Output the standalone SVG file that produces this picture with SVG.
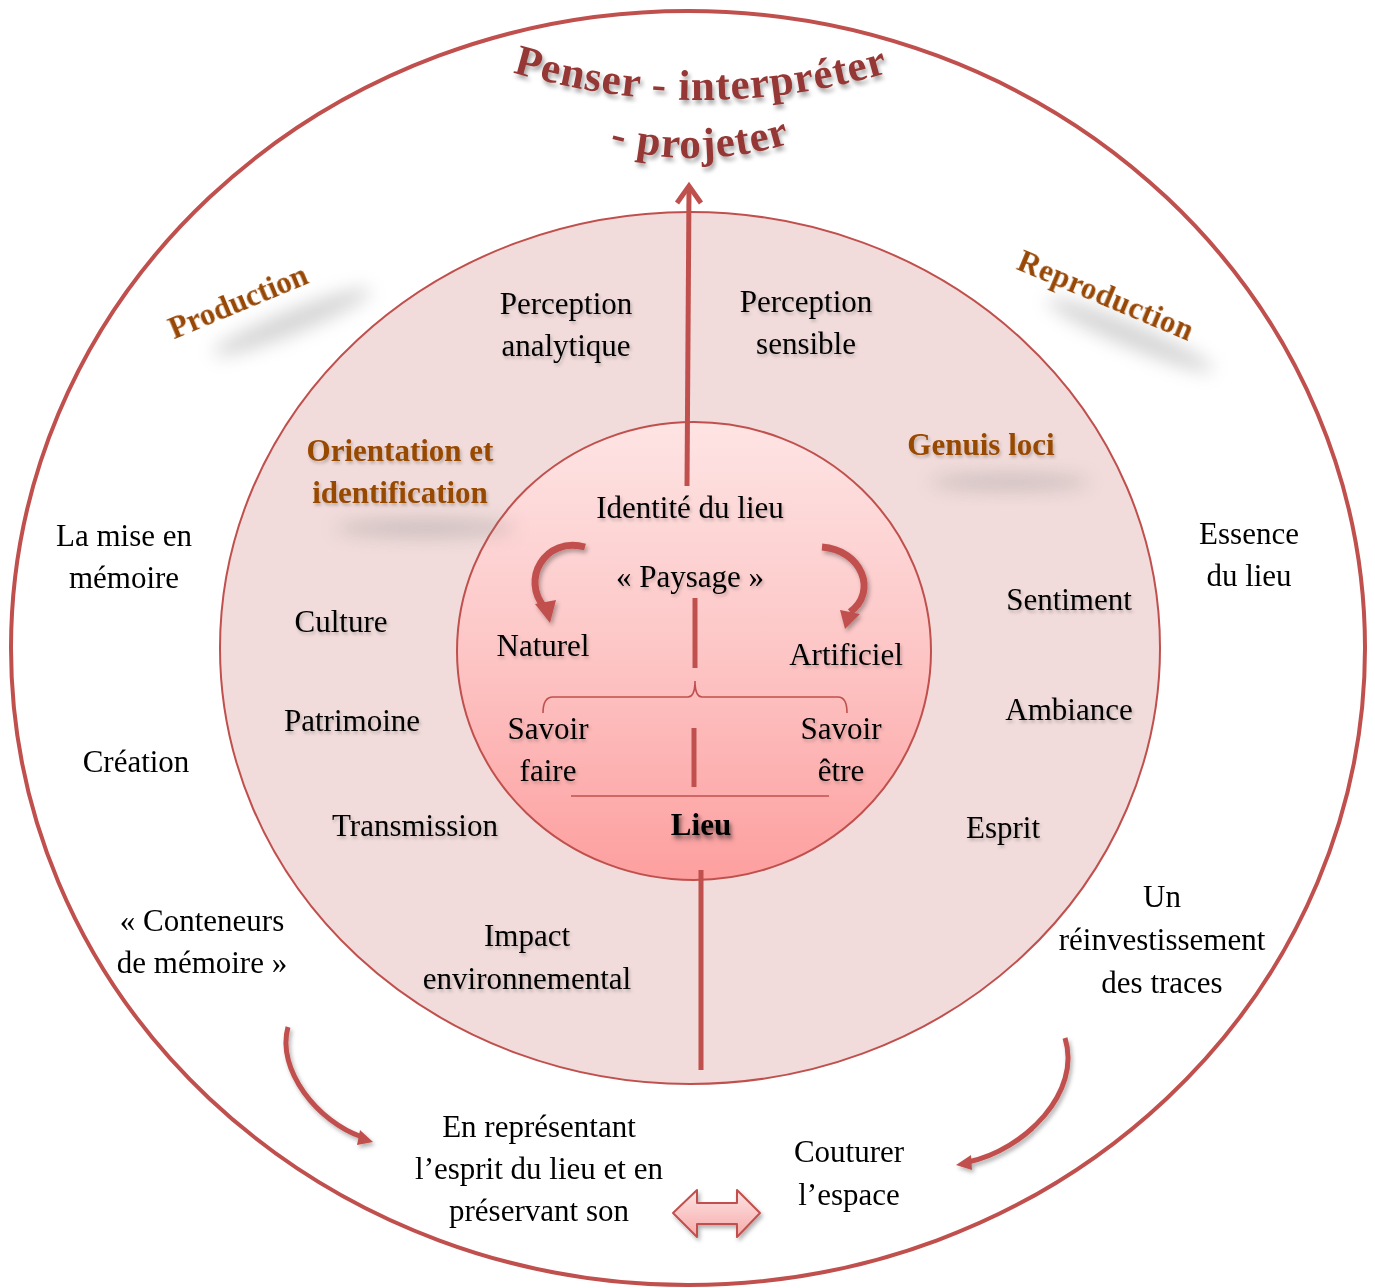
<svg xmlns="http://www.w3.org/2000/svg" width="1375" height="1288" viewBox="0 0 1375 1288">
<defs>
<style>
.t{font-family:"Liberation Serif","Times New Roman",serif;font-size:31px;fill:#000;text-anchor:middle}
.b{font-family:"Liberation Serif","Times New Roman",serif;font-size:31px;font-weight:bold;fill:#984806;text-anchor:middle}
.ttl{font-family:"Liberation Serif","Times New Roman",serif;font-size:43px;font-weight:bold;fill:#953735;letter-spacing:1px}
.ln{stroke:#c0504d;fill:none;stroke-linecap:butt}
</style>
<filter id="ts" x="-20%" y="-30%" width="140%" height="170%"><feDropShadow dx="1.5" dy="2.5" stdDeviation="1.6" flood-color="#000" flood-opacity="0.22"/></filter>
<filter id="tt" x="-20%" y="-30%" width="140%" height="170%"><feDropShadow dx="2" dy="4" stdDeviation="2.2" flood-color="#000" flood-opacity="0.35"/></filter>
<filter id="bl" x="-50%" y="-100%" width="200%" height="300%"><feGaussianBlur stdDeviation="9"/></filter>
<filter id="as" x="-30%" y="-30%" width="160%" height="160%"><feDropShadow dx="2" dy="3" stdDeviation="2" flood-color="#000" flood-opacity="0.3"/></filter>
<linearGradient id="ig" x1="0" y1="0" x2="0" y2="1">
<stop offset="0" stop-color="#fee4e4"/>
<stop offset="0.5" stop-color="#fdc6c6"/>
<stop offset="1" stop-color="#fd9f9f"/>
</linearGradient>
<linearGradient id="dg" x1="0" y1="0" x2="0" y2="1">
<stop offset="0" stop-color="#fde4e4"/>
<stop offset="1" stop-color="#f7aaaa"/>
</linearGradient>
<path id="p1" d="M 505 70 Q 700 130 897 70"/>
<path id="p2" d="M 600 144 Q 700 174 800 140"/>
</defs>

<g id="circles">
<ellipse cx="688" cy="648" rx="677" ry="637" fill="#fff" stroke="#c0504d" stroke-width="4"/>
<ellipse cx="690" cy="648" rx="470" ry="436" fill="#f1dcdb" stroke="#c0504d" stroke-width="2"/>
<ellipse cx="694" cy="651" rx="237" ry="229" fill="url(#ig)" stroke="#c0504d" stroke-width="2"/>
</g>

<g id="shadows" fill="#888" opacity="0.35">
<ellipse cx="292" cy="322" rx="85" ry="12" transform="rotate(-22 292 322)" filter="url(#bl)"/>
<ellipse cx="1130" cy="335" rx="90" ry="12" transform="rotate(23 1130 335)" filter="url(#bl)"/>
<ellipse cx="425" cy="528" rx="90" ry="9" filter="url(#bl)"/>
<ellipse cx="1010" cy="482" rx="80" ry="8" filter="url(#bl)"/>
</g>

<g id="connectors">
<line class="ln" x1="687" y1="486" x2="689" y2="190" stroke-width="5"/>
<polyline class="ln" points="677,203 689,186 701,203" stroke-width="5" stroke-linejoin="miter"/>
<line class="ln" x1="701" y1="870" x2="701" y2="1070" stroke-width="5"/>
<line class="ln" x1="695" y1="598" x2="695" y2="668" stroke-width="5"/>
<line class="ln" x1="694" y1="728" x2="694" y2="787" stroke-width="5"/>
<path class="ln" stroke-width="1.6" d="M 543 713 Q 543 697 553 697 L 688 697 Q 695 697 695 681 Q 695 697 702 697 L 838 697 Q 847 697 847 713"/>
<line class="ln" x1="571" y1="796" x2="829" y2="796" stroke-width="1.6"/>
<g filter="url(#as)">
<path class="ln" stroke-width="7" d="M 585 547 C 545 536 520 580 545 608"/>
<polygon fill="#c0504d" points="535,604 556,600 550,623"/>
<path class="ln" stroke-width="7" d="M 822 547 C 862 550 878 592 850 612"/>
<polygon fill="#c0504d" points="840,610 860,614 845,629"/>
<path class="ln" stroke-width="5" d="M 288 1027 C 276 1070 318 1122 362 1137"/>
<polygon fill="#c0504d" points="360,1130 373,1142 357,1145"/>
<path class="ln" stroke-width="5" d="M 1065 1038 C 1082 1092 1025 1150 968 1162"/>
<polygon fill="#c0504d" points="971,1155 956,1165 972,1170"/>
</g>
<polygon filter="url(#as)" fill="url(#dg)" stroke="#c0504d" stroke-width="2" stroke-linejoin="round" points="673,1213 697,1190 697,1203 737,1203 737,1190 760,1213 737,1237 737,1224 697,1224 697,1237"/>
</g>

<g id="title" filter="url(#tt)">
<text class="ttl"><textPath href="#p1" startOffset="50%" text-anchor="middle">Penser - interpréter</textPath></text>
<text class="ttl"><textPath href="#p2" startOffset="50%" text-anchor="middle">- projeter</textPath></text>
</g>

<g id="production"><text class="b" transform="translate(242 311) rotate(-22.6)" x="0" y="0">Production</text></g>
<g id="reproduction"><text class="b" transform="translate(1102 305) rotate(22.7)" x="0" y="0" style="letter-spacing:0.5px">Reproduction</text></g>

<g filter="url(#ts)">
<g id="perception-analytique"><text class="t" x="566" y="314">Perception</text><text class="t" x="566" y="356">analytique</text></g>
<g id="perception-sensible"><text class="t" x="806" y="312">Perception</text><text class="t" x="806" y="354">sensible</text></g>
<g id="orientation"><text class="b" x="400" y="461">Orientation et</text><text class="b" x="400" y="503">identification</text></g>
<g id="genuis-loci"><text class="b" x="981" y="455">Genuis loci</text></g>
<g id="identite"><text class="t" x="690" y="518">Identité du lieu</text></g>
<g id="paysage"><text class="t" x="690" y="587">« Paysage »</text></g>
<g id="naturel"><text class="t" x="543" y="656">Naturel</text></g>
<g id="artificiel"><text class="t" x="846" y="665">Artificiel</text></g>
<g id="savoir-faire"><text class="t" x="548" y="739">Savoir</text><text class="t" x="548" y="781">faire</text></g>
<g id="savoir-etre"><text class="t" x="841" y="739">Savoir</text><text class="t" x="841" y="781">être</text></g>
<g id="lieu"><text class="t" x="701" y="835" font-weight="bold" filter="url(#tt)">Lieu</text></g>
<g id="culture"><text class="t" x="341" y="632">Culture</text></g>
<g id="patrimoine"><text class="t" x="352" y="731">Patrimoine</text></g>
<g id="transmission"><text class="t" x="415" y="836">Transmission</text></g>
<g id="impact"><text class="t" x="527" y="946">Impact</text><text class="t" x="527" y="989">environnemental</text></g>
<g id="sentiment"><text class="t" x="1069" y="610">Sentiment</text></g>
<g id="ambiance"><text class="t" x="1069" y="720">Ambiance</text></g>
<g id="esprit"><text class="t" x="1003" y="838">Esprit</text></g>
</g>

<g id="mise-en-memoire"><text class="t" x="124" y="546">La mise en</text><text class="t" x="124" y="588">mémoire</text></g>
<g id="creation"><text class="t" x="136" y="772">Création</text></g>
<g id="conteneurs"><text class="t" x="202" y="931">« Conteneurs</text><text class="t" x="202" y="973">de mémoire »</text></g>
<g id="essence"><text class="t" x="1249" y="544">Essence</text><text class="t" x="1249" y="586">du lieu</text></g>
<g id="reinvestissement"><text class="t" x="1162" y="907">Un</text><text class="t" x="1162" y="950">réinvestissement</text><text class="t" x="1162" y="993">des traces</text></g>
<g id="representant"><text class="t" x="539" y="1137">En représentant</text><text class="t" x="539" y="1179">l’esprit du lieu et en</text><text class="t" x="539" y="1221">préservant son</text></g>
<g id="couturer"><text class="t" x="849" y="1162">Couturer</text><text class="t" x="849" y="1205">l’espace</text></g>
</svg>
